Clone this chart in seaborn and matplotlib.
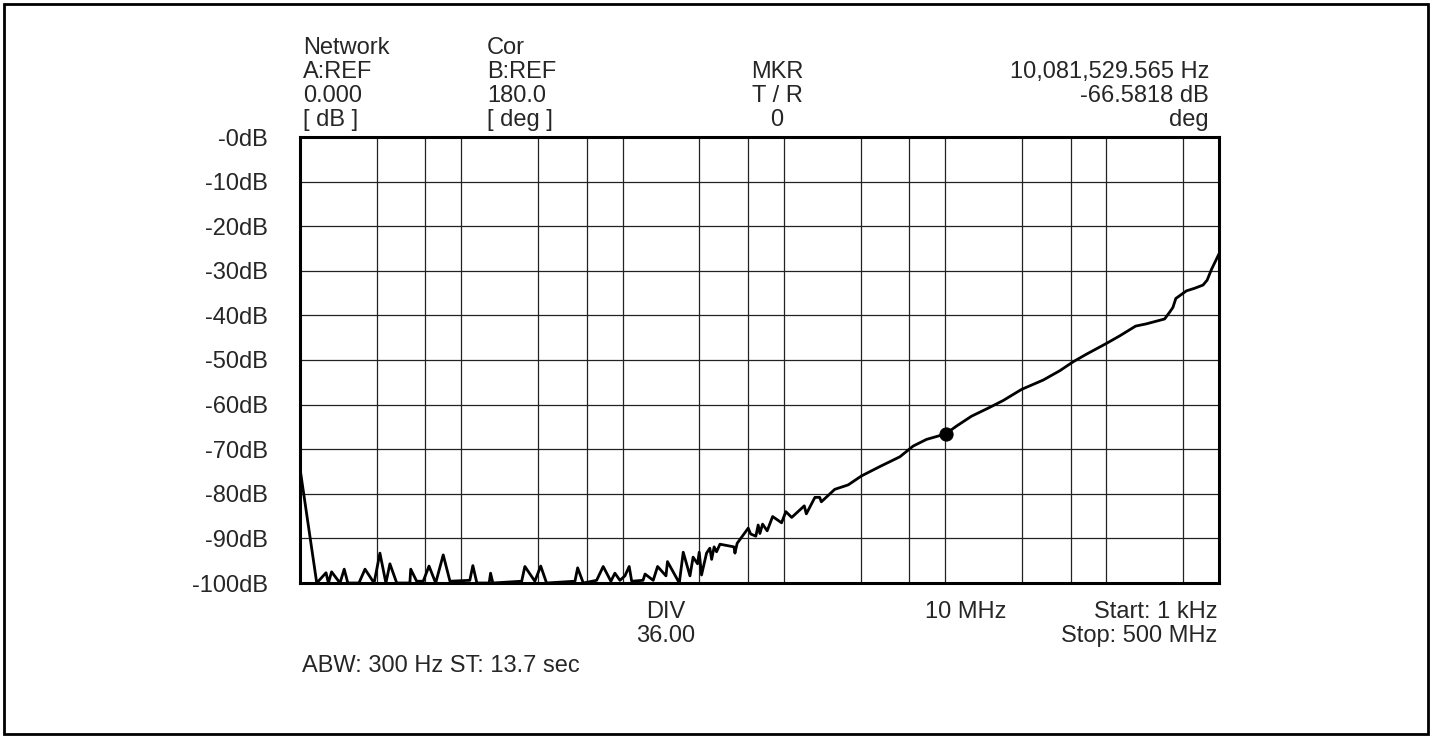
import numpy as np
import pandas as pd
import seaborn as sns
from matplotlib import pyplot as plt
from matplotlib.patches import Rectangle

# trace (Hz, dB)
freq_hz = [1.0e3, 1.27e3, 1.45e3, 1.50e3, 1.57e3, 1.77e3, 1.88e3, 1.98e3, 2.32e3, 2.53e3,
           2.88e3, 3.13e3, 3.41e3, 3.61e3, 3.98e3, 4.80e3, 4.86e3, 5.29e3, 5.81e3, 6.31e3,
           6.94e3, 7.73e3, 8.51e3, 11.3e3, 11.8e3, 12.5e3, 14.9e3, 15.2e3, 15.7e3, 23.7e3,
           24.8e3, 28.6e3, 31.1e3, 33.8e3, 50.7e3, 52.7e3, 57.1e3, 69.1e3, 75.9e3, 84.7e3,
           89.7e3, 96.4e3, 103.5e3, 110e3, 114e3, 134e3, 138e3, 155e3, 165e3, 186e3,
           190e3, 225e3, 238e3, 262e3, 274e3, 292e3, 299e3, 309e3, 332e3, 348e3,
           357e3, 370e3, 383e3, 402e3, 491e3, 498e3, 514e3, 602e3, 623e3, 671e3,
           694e3, 711e3, 739e3, 789e3, 853e3, 969e3, 1.03e6, 1.12e6, 1.34e6, 1.38e6,
           1.56e6, 1.67e6, 1.71e6, 2.07e6, 2.51e6, 3.03e6, 3.94e6, 5.25e6, 6.34e6, 7.68e6,
           10.08e6, 11.8e6, 14.6e6, 18.5e6, 22.9e6, 29.8e6, 40.6e6, 51.5e6, 62.3e6, 75.3e6,
           100e6, 121e6, 152e6, 177e6, 230e6, 248e6, 259e6, 270e6, 314e6, 354e6,
           398e6, 422e6, 449e6, 500e6]
gain_db = [-74.3, -100, -97.7, -100, -97.5, -100, -96.9, -100, -100, -96.9,
           -100, -93.3, -100, -95.7, -100, -100, -96.9, -99.6, -99.6, -96.2,
           -100, -93.7, -99.6, -99.4, -96.1, -100, -100, -97.8, -100, -99.6,
           -96.3, -99.6, -96.2, -100, -99.6, -96.6, -100, -99.4, -96.3, -99.6,
           -97.8, -99.4, -98.4, -96.3, -99.6, -99.4, -98.0, -99.4, -96.3, -98.4,
           -95.2, -100, -93.1, -98.4, -94.2, -95.7, -93.1, -98.2, -93.3, -92.2,
           -94.7, -91.9, -93.0, -91.3, -91.9, -93.3, -91.1, -87.7, -89.0, -89.5,
           -87.0, -88.9, -86.8, -88.3, -85.1, -86.5, -84.0, -85.3, -82.7, -84.5,
           -80.8, -80.8, -81.8, -79.0, -78.0, -76.0, -73.9, -71.7, -69.3, -67.8,
           -66.58, -64.8, -62.6, -60.8, -59.1, -56.6, -54.5, -52.4, -50.4, -48.7,
           -46.3, -44.6, -42.4, -41.9, -40.8, -39.2, -38.2, -36.2, -34.5, -33.9,
           -33.2, -32.1, -29.7, -26.2]

marker_hz = [10081529.565]
marker_db = [-66.5818]

ytick_vals = [0, -10, -20, -30, -40, -50, -60, -70, -80, -90, -100]
ytick_labels = ["-0dB", "-10dB", "-20dB", "-30dB", "-40dB", "-50dB",
                "-60dB", "-70dB", "-80dB", "-90dB", "-100dB"]
# grid at 3, 6, 10 per decade
xgrid = [m * 10.0 ** e for e in range(3, 9) for m in (3, 6, 10)]
xgrid = [g for g in xgrid if g < 5e8]

trace = pd.DataFrame({"freq": freq_hz, "db": gain_db})
mk = pd.DataFrame({"freq": marker_hz, "db": marker_db})

sns.set_style("white")
plt.rcParams["font.family"] = ["Liberation Sans", "DejaVu Sans"]

W, H = 1432, 738
fig = plt.figure(figsize=(W / 100, H / 100), dpi=100)
ax = fig.add_axes([300 / W, 1 - 583 / H, 919 / W, 446 / H])

sns.lineplot(data=trace, x="freq", y="db", ax=ax, color="black", lw=2.0,
             estimator=None, sort=False, zorder=3)
sns.scatterplot(data=mk, x="freq", y="db", ax=ax, color="black", s=90,
                edgecolor="black", zorder=4)

ax.set_xscale("log")
ax.set_xlim(1e3, 5e8)
ax.set_ylim(-100, 0)
ax.set_xticks(xgrid)
ax.set_xticks([], minor=True)
ax.set_xticklabels([])
ax.set_yticks(ytick_vals)
ax.set_yticklabels(ytick_labels, fontsize=17)
ax.tick_params(axis="both", length=0)
ax.tick_params(axis="y", pad=23)
ax.grid(True, color="#222222", lw=0.9)
ax.set_xlabel("")
ax.set_ylabel("")
for s in ax.spines.values():
    s.set_linewidth(2.2)
    s.set_color("black")
    s.set_zorder(5)


def px(x, y):
    return x / W, 1 - y / H


fs = 17
rows = [54, 78, 102, 126]
for txt, y in zip(["Network", "A:REF", "0.000", "[ dB ]"], rows):
    fig.text(*px(303, y), txt, fontsize=fs, va="baseline", ha="left")
for txt, y in zip(["Cor", "B:REF", "180.0", "[ deg ]"], rows):
    fig.text(*px(487, y), txt, fontsize=fs, va="baseline", ha="left")
for txt, y in zip(["MKR", "T / R", "0"], rows[1:]):
    fig.text(*px(777, y), txt, fontsize=fs, va="baseline", ha="center")
for txt, y in zip(["10,081,529.565 Hz", "-66.5818 dB", "deg"], rows[1:]):
    fig.text(*px(1209, y), txt, fontsize=fs, va="baseline", ha="right")

fig.text(*px(666, 618), "DIV", fontsize=fs, va="baseline", ha="center")
fig.text(*px(666, 642), "36.00", fontsize=fs, va="baseline", ha="center")
fig.text(*px(966, 618), "10 MHz", fontsize=fs, va="baseline", ha="center")
fig.text(*px(1217, 618), "Start: 1 kHz", fontsize=fs, va="baseline", ha="right")
fig.text(*px(1217, 642), "Stop: 500 MHz", fontsize=fs, va="baseline", ha="right")
fig.text(*px(302, 672), "ABW: 300 Hz ST: 13.7 sec", fontsize=fs, va="baseline", ha="left")

fig.patches.append(Rectangle((4 / W, 4 / H), 1424 / W, 730 / H, transform=fig.transFigure,
                             fill=False, lw=2, edgecolor="black"))

fig.savefig("out.png", dpi=100)
